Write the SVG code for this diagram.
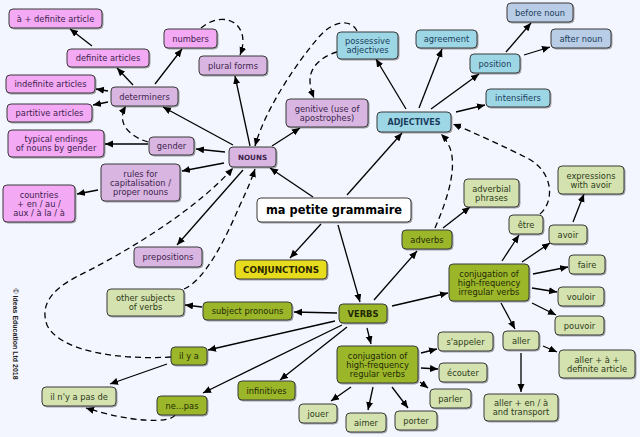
<svg xmlns="http://www.w3.org/2000/svg" width="640" height="437" viewBox="0 0 640 437">
<style>
.bg{fill:#F3F6FE}
.n rect{stroke:#3a3a3a;stroke-width:1;filter:url(#sh)}
.pk rect{fill:#F4A9F4}.lv rect{fill:#D9B6E1}.cy rect{fill:#9DD7E5}.sb rect{fill:#B9CDE6}
.ol rect{fill:#9CB62C}.lg rect{fill:#D4E2AF}.ye rect{fill:#E6DB1F}.wh rect{fill:#FFFFFF}
.n text{font-family:"DejaVu Sans",Verdana,sans-serif;font-size:8.3px;text-anchor:middle}
.pk text,.lv text{fill:#3d1f4d}.cy text,.sb text{fill:#1b3d5c}.ol text{fill:#1f2a05}.lg text{fill:#2d3b1a}
.n text.b{font-weight:bold}
.e line,.e path{stroke:#000;stroke-width:1.3;fill:none;marker-end:url(#ah)}
.e .d{stroke-dasharray:6,4}
.cp{font-family:"Liberation Sans",Arial,sans-serif;font-size:7px;font-weight:bold;fill:#222}
</style>
<defs>
<filter id="sh" x="-10%" y="-10%" width="130%" height="140%"><feDropShadow dx="1" dy="1" stdDeviation="0.7" flood-color="#000" flood-opacity="0.35"/></filter>
<marker id="ah" markerUnits="userSpaceOnUse" markerWidth="9" markerHeight="8" refX="8" refY="3.5" orient="auto"><path d="M0,0 L8,3.5 L0,7 z" fill="#000"/></marker>
</defs>
<rect class="bg" x="0" y="0" width="640" height="437"/>
<text class="cp" transform="translate(13,334) rotate(90)" text-anchor="middle">© Ideas Education Ltd 2018</text>
<g id="connectors" class="e">
<line x1="92" y1="46" x2="70" y2="29"/>
<line x1="133" y1="85" x2="117" y2="68"/>
<line x1="155" y1="84" x2="182" y2="49"/>
<line x1="108" y1="91" x2="96" y2="89"/>
<line x1="108" y1="102" x2="93" y2="105"/>
<line x1="250" y1="146" x2="235" y2="76"/>
<line x1="233" y1="145" x2="163" y2="107"/>
<line x1="225" y1="152" x2="196" y2="149"/>
<line x1="148" y1="144" x2="105" y2="144"/>
<line x1="272" y1="146" x2="300" y2="128"/>
<line x1="224" y1="163" x2="182" y2="171"/>
<line x1="98" y1="190" x2="77" y2="194"/>
<line x1="243" y1="170" x2="177" y2="245"/>
<line x1="313" y1="197" x2="270" y2="168"/>
<line x1="347" y1="195" x2="402" y2="133"/>
<line x1="321" y1="224" x2="290" y2="258"/>
<line x1="338" y1="225" x2="360" y2="302"/>
<line x1="406" y1="109" x2="376" y2="59"/>
<line x1="419" y1="108" x2="442" y2="49"/>
<line x1="431" y1="109" x2="479" y2="74"/>
<line x1="456" y1="112" x2="485" y2="105"/>
<line x1="506" y1="52" x2="531" y2="23"/>
<line x1="524" y1="55" x2="550" y2="47"/>
<line x1="374" y1="300" x2="417" y2="251"/>
<line x1="443" y1="228" x2="470" y2="207"/>
<line x1="392" y1="306" x2="448" y2="293"/>
<line x1="502" y1="261" x2="519" y2="235"/>
<line x1="522" y1="262" x2="550" y2="243"/>
<line x1="573" y1="222" x2="584" y2="194"/>
<line x1="533" y1="274" x2="568" y2="267"/>
<line x1="532" y1="288" x2="557" y2="292"/>
<line x1="532" y1="303" x2="556" y2="315"/>
<line x1="501" y1="303" x2="515" y2="329"/>
<line x1="543" y1="346" x2="557" y2="352"/>
<line x1="521" y1="353" x2="521" y2="392"/>
<line x1="367" y1="328" x2="371" y2="344"/>
<line x1="421" y1="353" x2="437" y2="349"/>
<line x1="421" y1="368" x2="438" y2="369"/>
<line x1="420" y1="382" x2="428" y2="388"/>
<line x1="351" y1="387" x2="331" y2="401"/>
<line x1="373" y1="387" x2="368" y2="410"/>
<line x1="392" y1="387" x2="408" y2="408"/>
<line x1="337" y1="313" x2="294" y2="312"/>
<line x1="202" y1="307" x2="185" y2="305"/>
<line x1="335" y1="321" x2="208" y2="350"/>
<line x1="342" y1="325" x2="203" y2="393"/>
<line x1="347" y1="327" x2="280" y2="380"/>
<line x1="167" y1="364" x2="110" y2="384"/>
<path class="d" d="M201,28 C225,8 252,25 240,55"/>
<path class="d" d="M357,31 C352,20 335,18 318,38 C295,65 265,110 255,146"/>
<path class="d" d="M337,52 C325,55 310,65 310,80 C310,88 312,93 314,98"/>
<path class="d" d="M540,214 C556,200 552,170 527,158 C505,147 475,133 453,124"/>
<path class="d" d="M435,228 C445,205 458,170 450,148 C447,141 444,137 441,134"/>
<path class="d" d="M148,142 C128,136 116,122 126,106"/>
<path class="d" d="M184,289 C205,280 225,240 240,205 C248,188 252,178 255,169"/>
<path class="d" d="M171,357 C120,360 60,352 47,325 C38,300 60,285 80,275 C140,245 200,205 233,168"/>
<path class="d" d="M175,415 C170,424 130,422 86,408"/>
</g>
<g id="n-a-def" class="n pk"><rect x="9" y="9" width="93" height="19" rx="4"/><text x="55.5" y="21.5">à + definite article</text></g>
<g id="n-def-art" class="n pk"><rect x="67" y="49" width="82" height="18" rx="4"/><text x="108" y="61">definite articles</text></g>
<g id="n-numbers" class="n pk"><rect x="164" y="29" width="53" height="19" rx="4"/><text x="190.5" y="41.5">numbers</text></g>
<g id="n-indef" class="n pk"><rect x="6" y="75" width="89" height="18" rx="4"/><text x="50.5" y="87">indefinite articles</text></g>
<g id="n-partitive" class="n pk"><rect x="7" y="104" width="85" height="18" rx="4"/><text x="49.5" y="116">partitive articles</text></g>
<g id="n-typical" class="n pk"><rect x="8" y="130" width="96" height="27" rx="4"/><text x="56" y="142">typical endings</text><text x="56" y="151">of nouns by gender</text></g>
<g id="n-countries" class="n pk"><rect x="3" y="185" width="72" height="37" rx="4"/><text x="39" y="197.5">countries</text><text x="39" y="206.5">+ en / au /</text><text x="39" y="215.5">aux / à la / à</text></g>
<g id="n-plural" class="n lv"><rect x="199" y="56" width="68" height="19" rx="4"/><text x="233" y="68.5">plural forms</text></g>
<g id="n-determiners" class="n lv"><rect x="111" y="87" width="67" height="19" rx="4"/><text x="144.5" y="99.5">determiners</text></g>
<g id="n-gender" class="n lv"><rect x="149" y="137" width="45" height="18" rx="4"/><text x="171.5" y="149">gender</text></g>
<g id="n-genitive" class="n lv"><rect x="286" y="99" width="82" height="28" rx="4"/><text x="327" y="111.5">genitive (use of</text><text x="327" y="120.5">apostrophes)</text></g>
<g id="n-nouns" class="n lv"><rect x="229" y="147" width="47" height="20" rx="4"/><text class="b" x="252.5" y="159.6" style="font-size:7.2px">NOUNS</text></g>
<g id="n-rules" class="n lv"><rect x="101" y="164" width="79" height="37" rx="4"/><text x="140.5" y="176.5">rules for</text><text x="140.5" y="185.5">capitalisation /</text><text x="140.5" y="194.5">proper nouns</text></g>
<g id="n-prepositions" class="n lv"><rect x="134" y="247" width="68" height="20" rx="4"/><text x="168" y="260">prepositions</text></g>
<g id="n-possessive" class="n cy"><rect x="337" y="32" width="61" height="27" rx="4"/><text x="367.5" y="44">possessive</text><text x="367.5" y="53">adjectives</text></g>
<g id="n-agreement" class="n cy"><rect x="416" y="30" width="61" height="18" rx="4"/><text x="446.5" y="42">agreement</text></g>
<g id="n-position" class="n cy"><rect x="470" y="54" width="50" height="19" rx="4"/><text x="495" y="66.5">position</text></g>
<g id="n-intensifiers" class="n cy"><rect x="486" y="89" width="64" height="18" rx="4"/><text x="518" y="101">intensifiers</text></g>
<g id="n-adjectives" class="n cy"><rect x="377" y="112" width="74" height="20" rx="4"/><text class="b" x="414" y="125" style="font-size:8px">ADJECTIVES</text></g>
<g id="n-before" class="n sb"><rect x="507" y="3" width="66" height="19" rx="4"/><text x="540" y="15.5">before noun</text></g>
<g id="n-after" class="n sb"><rect x="551" y="29" width="60" height="19" rx="4"/><text x="581" y="41.5">after noun</text></g>
<g id="n-root" class="n wh"><rect x="257" y="198" width="154" height="24" rx="4"/><text class="b" x="334" y="214" style="font-size:11.4px;fill:#000">ma petite grammaire</text></g>
<g id="n-conjunctions" class="n ye"><rect x="235" y="260" width="92" height="19" rx="4"/><text class="b" x="281" y="272.7" style="font-size:8.8px;fill:#2a2600">CONJUNCTIONS</text></g>
<g id="n-adverbs" class="n ol"><rect x="402" y="230" width="50" height="19" rx="4"/><text x="427" y="242.5">adverbs</text></g>
<g id="n-conj-irr" class="n ol"><rect x="449" y="264" width="80" height="37" rx="4"/><text x="489" y="276.5">conjugation of</text><text x="489" y="285.5">high-frequency</text><text x="489" y="294.5">irregular verbs</text></g>
<g id="n-verbs" class="n ol"><rect x="339" y="304" width="48" height="19" rx="4"/><text class="b" x="363" y="316.5" style="font-size:8.4px">VERBS</text></g>
<g id="n-conj-reg" class="n ol"><rect x="337" y="346" width="81" height="37" rx="4"/><text x="377.5" y="358.5">conjugation of</text><text x="377.5" y="367.5">high-frequency</text><text x="377.5" y="376.5">regular verbs</text></g>
<g id="n-infinitives" class="n ol"><rect x="238" y="381" width="57" height="19" rx="4"/><text x="266.5" y="393.5">infinitives</text></g>
<g id="n-subj" class="n ol"><rect x="203" y="302" width="89" height="18" rx="4"/><text x="247.5" y="314">subject pronouns</text></g>
<g id="n-ilya" class="n ol"><rect x="171" y="347" width="36" height="18" rx="4"/><text x="189" y="359">il y a</text></g>
<g id="n-nepas" class="n ol"><rect x="157" y="396" width="50" height="19" rx="4"/><text x="182" y="408.5">ne...pas</text></g>
<g id="n-advphr" class="n lg"><rect x="464" y="179" width="55" height="28" rx="4"/><text x="491.5" y="191.5">adverbial</text><text x="491.5" y="200.5">phrases</text></g>
<g id="n-expr" class="n lg"><rect x="558" y="166" width="66" height="28" rx="4"/><text x="591" y="178.5">expressions</text><text x="591" y="187.5">with avoir</text></g>
<g id="n-etre" class="n lg"><rect x="509" y="215" width="34" height="19" rx="4"/><text x="526" y="227.5">être</text></g>
<g id="n-avoir" class="n lg"><rect x="549" y="225" width="38" height="19" rx="4"/><text x="568" y="237.5">avoir</text></g>
<g id="n-faire" class="n lg"><rect x="569" y="255" width="36" height="19" rx="4"/><text x="587" y="267.5">faire</text></g>
<g id="n-vouloir" class="n lg"><rect x="558" y="287" width="46" height="19" rx="4"/><text x="581" y="299.5">vouloir</text></g>
<g id="n-pouvoir" class="n lg"><rect x="555" y="316" width="49" height="19" rx="4"/><text x="579.5" y="328.5">pouvoir</text></g>
<g id="n-aller" class="n lg"><rect x="503" y="331" width="36" height="19" rx="4"/><text x="521" y="343.5">aller</text></g>
<g id="n-aller-a" class="n lg"><rect x="559" y="350" width="76" height="28" rx="4"/><text x="597" y="362.5">aller + à +</text><text x="597" y="371.5">definite article</text></g>
<g id="n-aller-en" class="n lg"><rect x="484" y="394" width="74" height="27" rx="4"/><text x="521" y="406">aller + en / à</text><text x="521" y="415">and transport</text></g>
<g id="n-sappeler" class="n lg"><rect x="438" y="332" width="55" height="19" rx="4"/><text x="465.5" y="344.5">s'appeler</text></g>
<g id="n-ecouter" class="n lg"><rect x="439" y="363" width="48" height="19" rx="4"/><text x="463" y="375.5">écouter</text></g>
<g id="n-parler" class="n lg"><rect x="430" y="389" width="41" height="19" rx="4"/><text x="450.5" y="401.5">parler</text></g>
<g id="n-jouer" class="n lg"><rect x="299" y="404" width="38" height="19" rx="4"/><text x="318" y="416.5">jouer</text></g>
<g id="n-aimer" class="n lg"><rect x="346" y="413" width="40" height="19" rx="4"/><text x="366" y="425.5">aimer</text></g>
<g id="n-porter" class="n lg"><rect x="395" y="411" width="42" height="19" rx="4"/><text x="416" y="423.5">porter</text></g>
<g id="n-other" class="n lg"><rect x="107" y="289" width="77" height="27" rx="4"/><text x="145.5" y="301">other subjects</text><text x="145.5" y="310">of verbs</text></g>
<g id="n-ilnya" class="n lg"><rect x="42" y="387" width="74" height="19" rx="4"/><text x="79" y="399.5">il n'y a pas de</text></g>
</svg>
